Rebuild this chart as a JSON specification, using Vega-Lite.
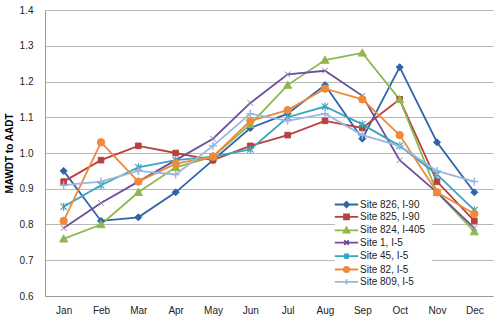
{
  "$schema": "https://vega.github.io/schema/vega-lite/v6.json",
  "width": 448,
  "height": 286,
  "autosize": {"type": "none"},
  "padding": {"left": 45, "top": 10, "right": 6, "bottom": 26},
  "background": "white",
  "config": {
    "view": {"stroke": null},
    "font": "Liberation Sans",
    "axis": {"labelFont": "Liberation Sans", "labelFontSize": 10, "labelColor": "#222", "ticks": false, "gridColor": "#b8b8b8", "gridWidth": 1, "domainColor": "#9a9a9a"}
  },
  "data": {"values": [
    {"m":"Jan","s":"Site 826, I-90","v":0.95},{"m":"Feb","s":"Site 826, I-90","v":0.81},{"m":"Mar","s":"Site 826, I-90","v":0.82},{"m":"Apr","s":"Site 826, I-90","v":0.89},{"m":"May","s":"Site 826, I-90","v":0.98},{"m":"Jun","s":"Site 826, I-90","v":1.07},{"m":"Jul","s":"Site 826, I-90","v":1.11},{"m":"Aug","s":"Site 826, I-90","v":1.19},{"m":"Sep","s":"Site 826, I-90","v":1.04},{"m":"Oct","s":"Site 826, I-90","v":1.24},{"m":"Nov","s":"Site 826, I-90","v":1.03},{"m":"Dec","s":"Site 826, I-90","v":0.89},
    {"m":"Jan","s":"Site 825, I-90","v":0.92},{"m":"Feb","s":"Site 825, I-90","v":0.98},{"m":"Mar","s":"Site 825, I-90","v":1.02},{"m":"Apr","s":"Site 825, I-90","v":1.0},{"m":"May","s":"Site 825, I-90","v":0.98},{"m":"Jun","s":"Site 825, I-90","v":1.02},{"m":"Jul","s":"Site 825, I-90","v":1.05},{"m":"Aug","s":"Site 825, I-90","v":1.09},{"m":"Sep","s":"Site 825, I-90","v":1.07},{"m":"Oct","s":"Site 825, I-90","v":1.15},{"m":"Nov","s":"Site 825, I-90","v":0.92},{"m":"Dec","s":"Site 825, I-90","v":0.81},
    {"m":"Jan","s":"Site 824, I-405","v":0.76},{"m":"Feb","s":"Site 824, I-405","v":0.8},{"m":"Mar","s":"Site 824, I-405","v":0.89},{"m":"Apr","s":"Site 824, I-405","v":0.96},{"m":"May","s":"Site 824, I-405","v":0.99},{"m":"Jun","s":"Site 824, I-405","v":1.08},{"m":"Jul","s":"Site 824, I-405","v":1.19},{"m":"Aug","s":"Site 824, I-405","v":1.26},{"m":"Sep","s":"Site 824, I-405","v":1.28},{"m":"Oct","s":"Site 824, I-405","v":1.15},{"m":"Nov","s":"Site 824, I-405","v":0.89},{"m":"Dec","s":"Site 824, I-405","v":0.78},
    {"m":"Jan","s":"Site 1, I-5","v":0.79},{"m":"Feb","s":"Site 1, I-5","v":0.86},{"m":"Mar","s":"Site 1, I-5","v":0.92},{"m":"Apr","s":"Site 1, I-5","v":0.98},{"m":"May","s":"Site 1, I-5","v":1.04},{"m":"Jun","s":"Site 1, I-5","v":1.14},{"m":"Jul","s":"Site 1, I-5","v":1.22},{"m":"Aug","s":"Site 1, I-5","v":1.23},{"m":"Sep","s":"Site 1, I-5","v":1.16},{"m":"Oct","s":"Site 1, I-5","v":0.98},{"m":"Nov","s":"Site 1, I-5","v":0.89},{"m":"Dec","s":"Site 1, I-5","v":0.79},
    {"m":"Jan","s":"Site 45, I-5","v":0.85},{"m":"Feb","s":"Site 45, I-5","v":0.91},{"m":"Mar","s":"Site 45, I-5","v":0.96},{"m":"Apr","s":"Site 45, I-5","v":0.98},{"m":"May","s":"Site 45, I-5","v":0.99},{"m":"Jun","s":"Site 45, I-5","v":1.01},{"m":"Jul","s":"Site 45, I-5","v":1.1},{"m":"Aug","s":"Site 45, I-5","v":1.13},{"m":"Sep","s":"Site 45, I-5","v":1.08},{"m":"Oct","s":"Site 45, I-5","v":1.02},{"m":"Nov","s":"Site 45, I-5","v":0.94},{"m":"Dec","s":"Site 45, I-5","v":0.84},
    {"m":"Jan","s":"Site 82, I-5","v":0.81},{"m":"Feb","s":"Site 82, I-5","v":1.03},{"m":"Mar","s":"Site 82, I-5","v":0.92},{"m":"Apr","s":"Site 82, I-5","v":0.97},{"m":"May","s":"Site 82, I-5","v":0.99},{"m":"Jun","s":"Site 82, I-5","v":1.09},{"m":"Jul","s":"Site 82, I-5","v":1.12},{"m":"Aug","s":"Site 82, I-5","v":1.18},{"m":"Sep","s":"Site 82, I-5","v":1.15},{"m":"Oct","s":"Site 82, I-5","v":1.05},{"m":"Nov","s":"Site 82, I-5","v":0.89},{"m":"Dec","s":"Site 82, I-5","v":0.83},
    {"m":"Jan","s":"Site 809, I-5","v":0.91},{"m":"Feb","s":"Site 809, I-5","v":0.92},{"m":"Mar","s":"Site 809, I-5","v":0.95},{"m":"Apr","s":"Site 809, I-5","v":0.94},{"m":"May","s":"Site 809, I-5","v":1.02},{"m":"Jun","s":"Site 809, I-5","v":1.11},{"m":"Jul","s":"Site 809, I-5","v":1.09},{"m":"Aug","s":"Site 809, I-5","v":1.11},{"m":"Sep","s":"Site 809, I-5","v":1.05},{"m":"Oct","s":"Site 809, I-5","v":1.02},{"m":"Nov","s":"Site 809, I-5","v":0.95},{"m":"Dec","s":"Site 809, I-5","v":0.92}
  ]},
  "encoding": {
    "x": {"field": "m", "type": "ordinal", "sort": ["Jan","Feb","Mar","Apr","May","Jun","Jul","Aug","Sep","Oct","Nov","Dec"], "scale": {"type": "point", "padding": 0.5}, "axis": {"title": null, "labelAngle": 0, "labelPadding": 9, "grid": false, "domainColor": "#9a9a9a"}},
    "y": {"field": "v", "type": "quantitative", "scale": {"domain": [0.6, 1.4], "nice": false}, "axis": {"title": "MAWDT to AADT", "titleFontSize": 10, "titleFontWeight": "bold", "titleColor": "#000", "titlePadding": 5, "values": [0.6,0.7,0.8,0.9,1.0,1.1,1.2,1.3,1.4], "format": ".1f", "labelPadding": 12}}
  },
  "layer": [
    {
      "mark": {"type": "line"},
      "encoding": {
        "color": {"field": "s", "type": "nominal",
          "scale": {"domain": ["Site 826, I-90","Site 825, I-90","Site 824, I-405","Site 1, I-5","Site 45, I-5","Site 82, I-5","Site 809, I-5"],
                    "range": ["#2F63AC","#B8413E","#8DB84F","#6E4E9C","#37A6BF","#EF8A3B","#9DB6DE"]},
          "legend": {"title": null, "orient": "none", "legendX": 290, "legendY": 183, "padding": 6, "fillColor": "white",
            "labelFontSize": 10, "labelColor": "#222", "labelOffset": 8, "symbolSize": 81, "rowPadding": -0.6, "symbolStrokeWidth": 2,
            "encode": {"symbols": {"update": {
              "shape": {"signal": "['M-2.6,0H2.6M0,-0.6L0.6,0L0,0.6L-0.6,0Z','M-2.6,0H2.6M-0.55,-0.55H0.55V0.55H-0.55Z','M-2.6,0H2.6M0,-0.65L0.65,0.5H-0.65Z','M-2.6,0H2.6M-0.5,-0.5L0.5,0.5M-0.5,0.5L0.5,-0.5','M-2.6,0H2.6M-0.5,-0.5L0.5,0.5M-0.5,0.5L0.5,-0.5M0,-0.65V0.65','M-2.6,0H2.6M0.6,0A0.6,0.6,0,1,1,-0.6,0A0.6,0.6,0,1,1,0.6,0Z','M-2.6,0H2.6M0,-0.6V0.6'][indexof(['Site 826, I-90','Site 825, I-90','Site 824, I-405','Site 1, I-5','Site 45, I-5','Site 82, I-5','Site 809, I-5'], datum.value)]"},
              "fill": {"signal": "scale('color', datum.value)"},
              "stroke": {"signal": "scale('color', datum.value)"},
              "strokeWidth": {"value": 2},
              "size": {"value": 81}
            }}}
          }},
        "strokeWidth": {"field": "s", "type": "nominal", "scale": {"domain": ["Site 826, I-90","Site 825, I-90","Site 824, I-405","Site 1, I-5","Site 45, I-5","Site 82, I-5","Site 809, I-5"], "range": [1.8,1.8,1.8,2.6,2.2,1.8,3]}, "legend": null}
      }
    },
    {"transform": [{"filter": "datum.s == 'Site 826, I-90'"}], "mark": {"type": "point", "shape": "M0,-1L1,0L0,1L-1,0Z", "size": 49, "fill": "#2F63AC", "stroke": "#2F63AC", "strokeWidth": 1, "opacity": 1}},
    {"transform": [{"filter": "datum.s == 'Site 825, I-90'"}], "mark": {"type": "point", "shape": "M-0.8,-0.8H0.8V0.8H-0.8Z", "size": 49, "fill": "#B8413E", "stroke": "#B8413E", "strokeWidth": 1, "opacity": 1}},
    {"transform": [{"filter": "datum.s == 'Site 824, I-405'"}], "mark": {"type": "point", "shape": "M0,-1L1,0.8H-1Z", "size": 64, "fill": "#8DB84F", "stroke": "#8DB84F", "strokeWidth": 1, "opacity": 1}},
    {"transform": [{"filter": "datum.s == 'Site 1, I-5'"}], "mark": {"type": "point", "shape": "M-0.8,-0.8L0.8,0.8M-0.8,0.8L0.8,-0.8", "size": 49, "fill": "#6E4E9C", "stroke": "#8E74B8", "strokeWidth": 1, "opacity": 1}},
    {"transform": [{"filter": "datum.s == 'Site 45, I-5'"}], "mark": {"type": "point", "shape": "M-0.8,-0.8L0.8,0.8M-0.8,0.8L0.8,-0.8M0,-1V1", "size": 64, "fill": "#37A6BF", "stroke": "#37A6BF", "strokeWidth": 1.2, "opacity": 1}},
    {"transform": [{"filter": "datum.s == 'Site 82, I-5'"}], "mark": {"type": "point", "shape": "circle", "size": 55, "fill": "#EF8A3B", "stroke": "#EF8A3B", "strokeWidth": 1, "opacity": 1}},
    {"transform": [{"filter": "datum.s == 'Site 809, I-5'"}], "mark": {"type": "point", "shape": "M-1,0H1M0,-1V1", "size": 64, "fill": "#9DB6DE", "stroke": "#9DB6DE", "strokeWidth": 1.5, "opacity": 1}}
  ]
}
